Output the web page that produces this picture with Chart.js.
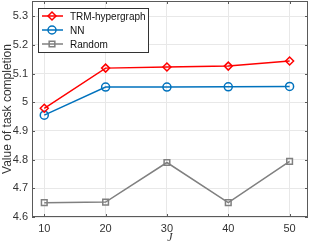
<!DOCTYPE html>
<html>
<head>
<meta charset="utf-8">
<script src="https://cdn.jsdelivr.net/npm/chart.js@4/dist/chart.umd.min.js"></script>
<style>
  html, body { margin: 0; padding: 0; background: #fff; }
  #wrap { width: 309px; height: 245px; position: relative; }
</style>
</head>
<body>
<div id="wrap"><canvas id="taskChart" width="309" height="245"></canvas></div>
<script>
// datos
const xValues = [10, 20, 30, 40, 50];
const trmValues = [4.979, 5.119, 5.123, 5.126, 5.144];
const nnValues = [4.955, 5.053, 5.053, 5.054, 5.055];
const randomValues = [4.650, 4.652, 4.790, 4.650, 4.794];
const xTicks = [10, 20, 30, 40, 50];
const yTicks = [4.6, 4.7, 4.8, 4.9, 5.0, 5.1, 5.2, 5.3];

const seriesNames = ['TRM-hypergraph', 'NN', 'Random'];
const seriesColors = ['#ff0000', '#0072bd', '#808080'];
const seriesMarkers = ['rectRot', 'circle', 'rect'];

function toPoints(vals) {
    return xValues.map((x, i) => ({ x: x, y: vals[i] }));
}

const axisColor = '#5a5a5a';
const textColor = '#333333';
const fontFam = '"Liberation Sans", Arial, sans-serif';

// marco y leyenda al estilo MATLAB
const boxPlugin = {
    id: 'boxPlugin',
    afterDraw(chart) {
        const { ctx, chartArea: a } = chart;
        const xs = chart.scales.x, ys = chart.scales.y;
        ctx.save();
        ctx.strokeStyle = axisColor;
        ctx.lineWidth = 1;
        ctx.strokeRect(a.left + 0.5, a.top + 0.5, a.right - a.left - 1, a.bottom - a.top - 1);
        // marcas hacia dentro
        xTicks.forEach(t => {
            const px = Math.round(xs.getPixelForValue(t)) + 0.5;
            ctx.beginPath();
            ctx.moveTo(px, a.bottom); ctx.lineTo(px, a.bottom - 3);
            ctx.moveTo(px, a.top); ctx.lineTo(px, a.top + 3);
            ctx.stroke();
        });
        yTicks.forEach(t => {
            const py = Math.round(ys.getPixelForValue(t)) + 0.5;
            ctx.beginPath();
            ctx.moveTo(a.left, py); ctx.lineTo(a.left + 3, py);
            ctx.moveTo(a.right, py); ctx.lineTo(a.right - 3, py);
            ctx.stroke();
        });

        // leyenda
        const lx = 38, ly = 8, lw = 110, lh = 44;
        ctx.fillStyle = '#ffffff';
        ctx.fillRect(lx, ly, lw, lh);
        ctx.strokeStyle = '#333333';
        ctx.lineWidth = 1;
        ctx.strokeRect(lx + 0.5, ly + 0.5, lw, lh);
        ctx.font = '10px ' + fontFam;
        ctx.textBaseline = 'middle';
        chart.data.datasets.forEach((ds, i) => {
            const cy = ly + 8 + i * 14;
            ctx.strokeStyle = ds.borderColor;
            ctx.lineWidth = 1.5;
            ctx.beginPath();
            ctx.moveTo(lx + 4, cy); ctx.lineTo(lx + 25, cy);
            ctx.stroke();
            ctx.fillStyle = 'rgba(255,255,255,0)';
            Chart.helpers.drawPoint(ctx, {
                pointStyle: ds.pointStyle, radius: 4, borderWidth: 1.5
            }, lx + 14, cy);
            ctx.fillStyle = '#111';
            ctx.fillText(ds.label, lx + 32, cy + 1);
        });
        ctx.restore();
    }
};

const ctx = document.getElementById('taskChart').getContext('2d');
const taskChart = new Chart(ctx, {
    type: 'line',
    data: {
        datasets: seriesNames.map((name, i) => ({
            label: name,
            data: toPoints([trmValues, nnValues, randomValues][i]),
            borderColor: seriesColors[i],
            backgroundColor: 'rgba(255,255,255,0)',
            pointStyle: seriesMarkers[i],
            pointRadius: 4,
            pointBorderWidth: 1.5,
            pointBackgroundColor: 'rgba(255,255,255,0)',
            borderWidth: 1.5,
            tension: 0
        }))
    },
    options: {
        responsive: false,
        animation: false,
        events: [],
        layout: { autoPadding: false, padding: { top: 1, right: 1, left: 0, bottom: 0 } },
        plugins: {
            legend: { display: false },
            tooltip: { enabled: false }
        },
        scales: {
            x: {
                type: 'linear',
                min: 8, max: 53,
                afterBuildTicks: s => { s.ticks = xTicks.map(v => ({ value: v })); },
                afterFit: s => { s.height = 28; s.paddingLeft = 0; s.paddingRight = 0; },
                grid: { color: '#e8e8e8', drawTicks: false },
                border: { display: false },
                ticks: {
                    color: textColor, padding: 5,
                    font: { family: fontFam, size: 11 }
                },
                title: {
                    display: true, text: 'J', color: textColor, padding: 0,
                    font: { family: 'Liberation Serif, serif', size: 12, style: 'italic' }
                }
            },
            y: {
                min: 4.6, max: 5.353,
                afterBuildTicks: s => { s.ticks = yTicks.map(v => ({ value: v })); },
                afterFit: s => { s.width = 32; s.paddingTop = 0; s.paddingBottom = 0; },
                grid: { color: '#e8e8e8', drawTicks: false },
                border: { display: false },
                ticks: {
                    color: textColor, padding: 4,
                    font: { family: fontFam, size: 11 },
                    callback: v => String(Math.round(v * 10) / 10)
                },
                title: {
                    display: true, text: 'Value of task completion', color: textColor,
                    padding: 0,
                    font: { family: fontFam, size: 12 }
                }
            }
        }
    },
    plugins: [boxPlugin]
});
</script>
</body>
</html>
